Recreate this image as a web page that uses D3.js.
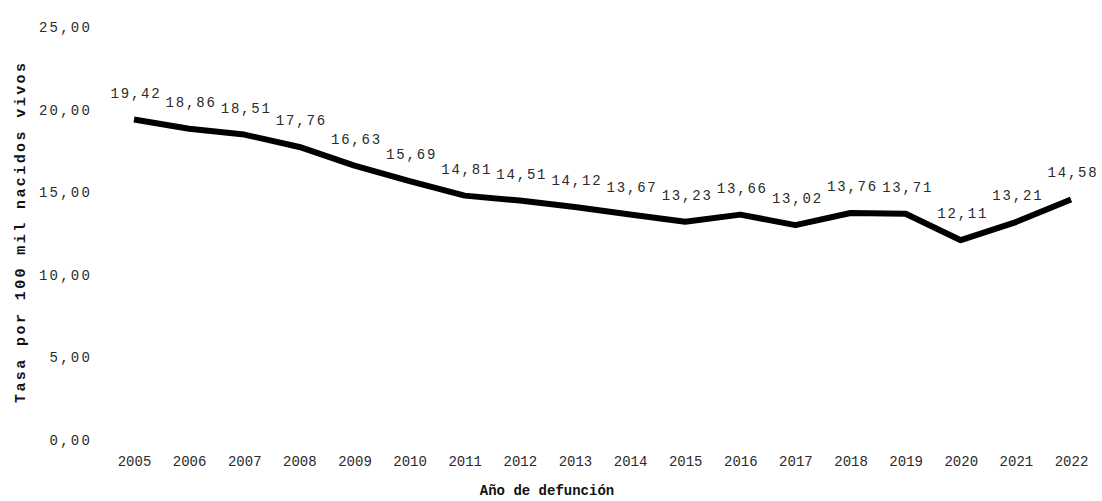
<!DOCTYPE html>
<html>
<head>
<meta charset="utf-8">
<script src="https://cdn.jsdelivr.net/npm/d3@7"></script>
<style>
  html, body { margin: 0; padding: 0; background: #fff; }
  svg { display: block; }
  text { font-family: "Liberation Mono", "Courier New", monospace; }
</style>
</head>
<body>
<svg id="chart" width="1102" height="501"></svg>
<script>
// Tasa de mortalidad por año de defunción (por 100 mil nacidos vivos)
const years = [2005, 2006, 2007, 2008, 2009, 2010, 2011, 2012, 2013, 2014,
               2015, 2016, 2017, 2018, 2019, 2020, 2021, 2022];
const rates = [19.42, 18.86, 18.51, 17.76, 16.63, 15.69, 14.81, 14.51, 14.12, 13.67,
               13.23, 13.66, 13.02, 13.76, 13.71, 12.11, 13.21, 14.58];
const yTicks = [0, 5, 10, 15, 20, 25];

const yTitle = "Tasa por 100 mil nacidos vivos";
const xTitle = "Año de defunción";

const svg = d3.select("#chart");
const fmt = v => d3.format(".2f")(v).replace(".", ",");

const x = d3.scalePoint().domain(years).range([134, 1071]);
const y = d3.scaleLinear().domain([0, 25]).range([440, 27.5]);

// Eje Y: solo etiquetas
const yAxis = svg.append("g")
  .attr("transform", "translate(92,0)")
  .call(d3.axisLeft(y).tickValues(yTicks).tickFormat(fmt).tickSize(0).tickPadding(0));
yAxis.select(".domain").remove();
yAxis.selectAll("text")
  .attr("font-family", "Liberation Mono, monospace")
  .attr("font-size", 14)
  .attr("letter-spacing", 2.2)
  .attr("fill", "#2a2a2a");

// Eje X: solo etiquetas
const xAxis = svg.append("g")
  .attr("transform", "translate(0,456)")
  .call(d3.axisBottom(x).tickSize(0).tickPadding(0).tickFormat(d3.format("d")));
xAxis.select(".domain").remove();
xAxis.selectAll("text")
  .attr("font-family", "Liberation Mono, monospace")
  .attr("font-size", 14)
  .attr("fill", "#2a2a2a");

// Línea de la serie
const line = d3.line()
  .x((d, i) => x(years[i]))
  .y(d => y(d));

svg.append("path")
  .datum(rates)
  .attr("d", line)
  .attr("fill", "none")
  .attr("stroke", "#000")
  .attr("stroke-width", 6)
  .attr("stroke-linejoin", "round");

// Etiquetas de datos
svg.append("g").selectAll("text")
  .data(rates)
  .join("text")
  .attr("x", (d, i) => x(years[i]) + 2)
  .attr("y", d => y(d) - 22)
  .attr("text-anchor", "middle")
  .attr("font-size", 14)
  .attr("letter-spacing", 1.8)
  .attr("fill", "#2a2a2a")
  .text(fmt);

// Títulos de ejes
svg.append("text")
  .attr("transform", "translate(25,233) rotate(-90)")
  .attr("text-anchor", "middle")
  .attr("font-size", 15)
  .attr("font-weight", "bold")
  .attr("textLength", 340)
  .attr("lengthAdjust", "spacing")
  .attr("fill", "#111")
  .text(yTitle);

svg.append("text")
  .attr("x", 547)
  .attr("y", 495)
  .attr("text-anchor", "middle")
  .attr("font-size", 14)
  .attr("font-weight", "bold")
  .attr("fill", "#111")
  .text(xTitle);
</script>
</body>
</html>
